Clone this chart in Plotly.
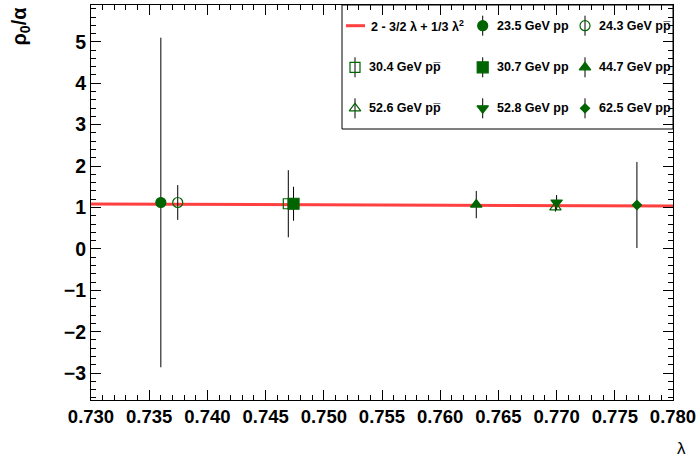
import plotly.graph_objects as go

# ---- data ----
labels = ["23.5 GeV pp", "24.3 GeV pp\u0305", "30.4 GeV pp\u0305", "30.7 GeV pp",
          "44.7 GeV pp", "52.6 GeV pp\u0305", "52.8 GeV pp", "62.5 GeV pp"]
lam = [0.7360, 0.73745, 0.74695, 0.7474, 0.7631, 0.7699, 0.7700, 0.7769]
rho = [1.12, 1.12, 1.09, 1.09, 1.07, 1.00, 1.12, 1.06]
err = [3.98, 0.42, 0.81, 0.41, 0.33, 0.10, 0.18, 1.04]
symbols = ["circle", "circle-open", "square-open", "square",
           "triangle-up", "triangle-up-open", "triangle-down", "diamond"]
sizes = [10, 10, 10, 11, 10, 10, 10, 7]

lam_line = [0.730, 0.755, 0.780]
rho_line = [1.083, 1.057, 1.033]
line_label = "2 - 3/2 \u03bb + 1/3 \u03bb<sup>2</sup>"

x_ticks = [0.730, 0.735, 0.740, 0.745, 0.750, 0.755, 0.760, 0.765, 0.770, 0.775, 0.780]
x_ticktext = ["%.3f" % v for v in x_ticks]

GREEN = "#006400"
RED = "rgba(255,30,30,0.85)"
FONT = "Liberation Sans"

# plot area in pixels
W, H = 697, 464
L, R, T, B = 91, 673, 5, 400

fig = go.Figure()

fig.add_trace(go.Scatter(x=lam_line, y=rho_line, mode="lines",
                         line=dict(color=RED, width=3), showlegend=False,
                         hoverinfo="skip"))

for i in range(len(lam)):
    fig.add_trace(go.Scatter(
        x=[lam[i]], y=[rho[i]], mode="markers", showlegend=False,
        marker=dict(symbol=symbols[i], size=sizes[i], color=GREEN,
                    line=dict(color=GREEN, width=1.2)),
        error_y=dict(type="data", array=[err[i]], color="black",
                     thickness=1, width=0),
        name=labels[i]))

# ---- manual legend on a hidden pixel-coordinate axis pair ----
rows_y = [25.7, 67.3, 108.3]
cols_sym = [355, 482.7, 585]
cols_txt = [367, 494.7, 597]

ann = []
fig.add_trace(go.Scatter(x=[346, 365], y=[rows_y[0], rows_y[0]], mode="lines",
                         line=dict(color=RED, width=3), xaxis="x2", yaxis="y2",
                         showlegend=False, hoverinfo="skip"))
ann.append(dict(x=369, y=rows_y[0], xref="x2", yref="y2", text="<b>" + line_label + "</b>",
                showarrow=False, xanchor="left", yanchor="middle",
                font=dict(family=FONT, size=12.5, color="black")))

slots = [(0, 1), (0, 2), (1, 0), (1, 1), (1, 2), (2, 0), (2, 1), (2, 2)]
for i, (r, c) in enumerate(slots):
    fig.add_trace(go.Scatter(
        x=[cols_sym[c]], y=[rows_y[r]], mode="markers", xaxis="x2", yaxis="y2",
        showlegend=False, hoverinfo="skip",
        marker=dict(symbol=symbols[i], size=sizes[i], color=GREEN,
                    line=dict(color=GREEN, width=1.2)),
        error_y=dict(type="data", array=[10], color="black", thickness=1, width=0)))
    ann.append(dict(x=cols_txt[c], y=rows_y[r], xref="x2", yref="y2",
                    text="<b>" + labels[i] + "</b>", showarrow=False,
                    xanchor="left", yanchor="middle",
                    font=dict(family=FONT, size=12.5, color="black")))

# axis titles
ann.append(dict(x=(20 - L) / (R - L), y=1.0, xref="paper", yref="paper",
                text="<b>\u03c1<sub>0</sub>/\u03b1</b>", textangle=-90, showarrow=False,
                xanchor="center", yanchor="top",
                font=dict(family=FONT, size=20, color="black")))
ann.append(dict(x=(681 - L) / (R - L), y=-(448 - B) / (B - T), xref="paper", yref="paper",
                text="\u03bb", showarrow=False, xanchor="center", yanchor="middle",
                font=dict(family=FONT, size=17, color="black")))

axis_common = dict(showline=True, linecolor="black", linewidth=1, mirror="ticks",
                   ticks="inside", tickcolor="black", showgrid=False, zeroline=False)

fig.update_layout(
    width=W, height=H,
    margin=dict(l=L, r=W - R, t=T, b=H - B, autoexpand=False),
    paper_bgcolor="white", plot_bgcolor="white",
    showlegend=False,
    xaxis=dict(range=[0.730, 0.780], tickvals=x_ticks,
               ticktext=["<b>%s</b>" % t for t in x_ticktext], ticklen=10,
               tickfont=dict(family=FONT, size=18.5, color="black"),
               minor=dict(dtick=0.001, ticklen=5, ticks="inside", tickcolor="black",
                          showgrid=False),
               **axis_common),
    yaxis=dict(range=[-3.65, 5.89], tickvals=list(range(-3, 6)),
               ticktext=["<b>%s</b>" % ("\u2212%d" % -v if v < 0 else str(v)) for v in range(-3, 6)],
               ticklen=10,
               tickfont=dict(family=FONT, size=19.5, color="black"),
               minor=dict(dtick=0.2, ticklen=5, ticks="inside", tickcolor="black",
                          showgrid=False),
               **axis_common),
    xaxis2=dict(range=[L, R], overlaying="x", visible=False, domain=[0, 1]),
    yaxis2=dict(range=[B, T], overlaying="y", visible=False),
    annotations=ann,
    shapes=[dict(type="rect", xref="x2", yref="y2", x0=342, x1=R, y0=T, y1=129,
                 line=dict(color="black", width=1), fillcolor="rgba(0,0,0,0)", layer="above")],
)

fig.write_html("out.html", config={"displayModeBar": False},
               post_script="document.body.style.margin='0';document.body.style.padding='0';")
